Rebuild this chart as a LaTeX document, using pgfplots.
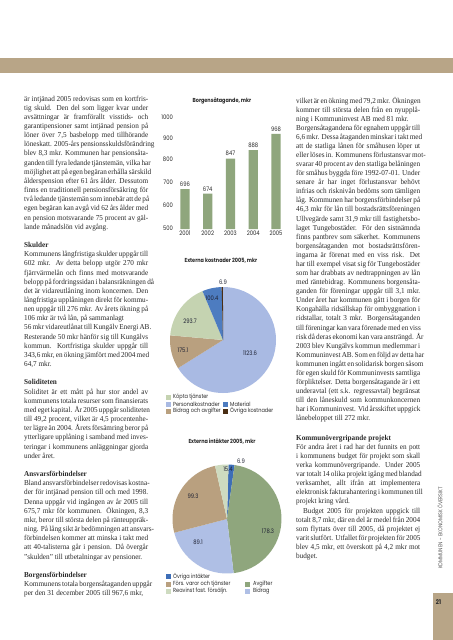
\documentclass[border=0pt]{standalone}
\usepackage{fontspec}
\setmainfont{Liberation Serif}[FakeStretch=0.95]
\newfontfamily\chartfont{Poppins}[FakeStretch=0.85]
\usepackage{pgfplots}
\pgfplotsset{compat=1.18}
\definecolor{tanc}{HTML}{B8A587}
\definecolor{barg}{HTML}{8FA67D}
\definecolor{cPers}{HTML}{A9BAE3}
\definecolor{cBid}{HTML}{B9A07F}
\definecolor{cKop}{HTML}{C5D3B1}
\definecolor{cMat}{HTML}{4D7CC0}
\definecolor{cOvr}{HTML}{4A2E14}
\definecolor{cAvg}{HTML}{8FA67D}
\definecolor{cBidB}{HTML}{AFBFE5}
\definecolor{cRea}{HTML}{CEDBC0}
\definecolor{cOvrB}{HTML}{3D6EB7}
\definecolor{txt}{HTML}{2A2A2A}
\definecolor{lab}{HTML}{1F2233}
\newlength\colw \setlength\colw{124bp}
\newcommand\J[1]{\hbox to \colw{#1}}
\newcommand\E[1]{\hbox{#1}}
\newcommand\B[1]{\hbox{\bfseries #1}}
\newcommand\pie[3]{%
  \xdef\pieT{0}%
  \foreach \v/\c in {#3} {\pgfmathsetmacro\tmp{\pieT+\v}\xdef\pieT{\tmp}}%
  \xdef\pieA{#1}%
  \foreach \v/\c in {#3} {%
    \pgfmathsetmacro\pieB{\pieA-\v/\pieT*360}%
    \fill[fill=\c] (axis cs:0,0) -- ++(\pieA:#2) arc[start angle=\pieA, end angle=\pieB, radius=#2] -- cycle;%
    \xdef\pieA{\pieB}%
  }%
}
\newcommand\cf{\chartfont\fontsize{6.2}{7}\selectfont}
\newcommand\lf{\chartfont\fontsize{5.9}{7}\selectfont}
\begin{document}
\begin{tikzpicture}
\path[fill=white] (0,0) rectangle (453bp,-640bp);
\begin{scope}[x=1bp,y=-1bp]
\fill[tanc] (0,58) rectangle (453,73);
\fill[tanc] (433,593) rectangle (453,640);
\node[font=\chartfont\bfseries\fontsize{6.5}{7}\selectfont, text=txt] at (438.5,602) {21};
\node[rotate=90, font=\chartfont\fontsize{5.6}{6.5}\selectfont, text=black!65] at (440,528) {KOMMUNEN - EKONOMISK ÖVERSIKT};
% left column
\node[anchor=base west, inner sep=0, text=txt] at (24,101) {\fontsize{7.6}{9.2}\selectfont\vtop{\baselineskip=9.16bp
\J{är intjänad 2005 redovisas som en kortfris-}
\J{tig skuld. Den del som ligger kvar under}
\J{avsättningar är framförallt visstids- och}
\J{garantipensioner samt intjänad pension på}
\J{löner över 7,5 basbelopp med tillhörande}
\J{löneskatt. 2005-års pensionsskuldsförändring}
\J{blev 8,3 mkr. Kommunen har pensionsåta-}
\J{ganden till fyra ledande tjänstemän, vilka har}
\J{möjlighet att på egen begäran erhålla särskild}
\J{ålderspension efter 61 års ålder. Dessutom}
\J{finns en traditionell pensionsförsäkring för}
\J{två ledande tjänstemän som innebär att de på}
\J{egen begäran kan avgå vid 62 års ålder med}
\J{en pension motsvarande 75 procent av gäl-}
\E{lande månadslön vid avgång.}
\vskip9.16bp
\B{Skulder}
\J{Kommunens långfristiga skulder uppgår till}
\J{602 mkr. Av detta belopp utgör 270 mkr}
\J{fjärrvärmelån och finns med motsvarande}
\J{belopp på fordringssidan i balansräkningen då}
\J{det är vidareutlåning inom koncernen. Den}
\J{långfristiga upplåningen direkt för kommu-}
\J{nen uppgår till 276 mkr. Av årets ökning på}
\E{106 mkr är två lån, på sammanlagt}
\J{56 mkr vidareutlånat till Kungälv Energi AB.}
\J{Resterande 50 mkr hänför sig till Kungälvs}
\J{kommun. Kortfristiga skulder uppgår till}
\J{343,6 mkr, en ökning jämfört med 2004 med}
\E{64,7 mkr.}
\vskip9.16bp
\B{Soliditeten}
\J{Soliditet är ett mått på hur stor andel av}
\J{kommunens totala resurser som finansierats}
\J{med eget kapital. År 2005 uppgår soliditeten}
\J{till 49,2 procent, vilket är 4,5 procentenhe-}
\J{ter lägre än 2004. Årets försämring beror på}
\J{ytterligare upplåning i samband med inves-}
\J{teringar i kommunens anläggningar gjorda}
\E{under året.}
\vskip9.16bp
\B{Ansvarsförbindelser}
\J{Bland ansvarsförbindelser redovisas kostna-}
\J{der för intjänad pension till och med 1998.}
\J{Denna uppgår vid ingången av år 2005 till}
\J{675,7 mkr för kommunen. Ökningen, 8,3}
\J{mkr, beror till största delen på ränteuppräk-}
\J{ning. På lång sikt är bedömningen att ansvars-}
\J{förbindelsen kommer att minska i takt med}
\J{att 40-talisterna går i pension. Då övergår}
\E{”skulden” till utbetalningar av pensioner.}
\vskip9.16bp
\B{Borgensförbindelser}
\J{Kommunens totala borgensåtaganden uppgår}
\E{per den 31 december 2005 till 967,6 mkr,}
}};
% right column
\node[anchor=base west, inner sep=0, text=txt] at (296,103) {\fontsize{7.6}{9.2}\selectfont\vtop{\baselineskip=9.08bp
\J{vilket är en ökning med 79,2 mkr. Ökningen}
\J{kommer till största delen från en nyupplå-}
\E{ning i Kommuninvest AB med 81 mkr.}
\J{Borgensåtagandena för egnahem uppgår till}
\J{6,6 mkr. Dessa åtaganden minskar i takt med}
\J{att de statliga lånen för småhusen löper ut}
\J{eller löses in. Kommunens förlustansvar mot-}
\J{svarar 40 procent av den statliga belåningen}
\J{för småhus byggda före 1992-07-01. Under}
\J{senare år har inget förlustansvar behövt}
\J{infrias och risknivån bedöms som tämligen}
\J{låg. Kommunen har borgensförbindelser på}
\J{46,3 mkr för lån till bostadsrättsföreningen}
\J{Ullvegärde samt 31,9 mkr till fastighetsbo-}
\J{laget Tungebostäder. För den sistnämnda}
\J{finns pantbrev som säkerhet. Kommunens}
\J{borgensåtaganden mot bostadsrättsfören-}
\J{ingarna är förenat med en viss risk. Det}
\J{har till exempel visat sig för Tungebostäder}
\J{som har drabbats av nedtrappningen av lån}
\J{med räntebidrag. Kommunens borgensåta-}
\J{ganden för föreningar uppgår till 3,1 mkr.}
\J{Under året har kommunen gått i borgen för}
\J{Kongahälla ridsällskap för ombyggnation i}
\J{ridstallar, totalt 3 mkr. Borgensåtaganden}
\J{till föreningar kan vara förenade med en viss}
\J{risk då deras ekonomi kan vara ansträngd. År}
\J{2003 blev Kungälvs kommun medlemmar i}
\J{Kommuninvest AB. Som en följd av detta har}
\J{kommunen ingått en solidarisk borgen såsom}
\J{för egen skuld för Kommuninvests samtliga}
\J{förpliktelser. Detta borgensåtagande är i ett}
\J{underavtal (ett s.k. regressavtal) begränsat}
\J{till den låneskuld som kommunkoncernen}
\J{har i Kommuninvest. Vid årsskiftet uppgick}
\E{lånebeloppet till 272 mkr.}
\vskip10.5bp
\B{Kommunövergripande projekt}
\J{För andra året i rad har det funnits en pott}
\J{i kommunens budget för projekt som skall}
\J{verka kommunövergripande. Under 2005}
\J{var totalt 14 olika projekt igång med blandad}
\J{verksamhet, allt ifrån att implementera}
\J{elektronisk fakturahantering i kommunen till}
\E{projekt kring vård.}
\J{\hskip7bp Budget 2005 för projekten uppgick till}
\J{totalt 8,7 mkr, där en del är medel från 2004}
\J{som flyttats över till 2005, då projektet ej}
\J{varit slutfört. Utfallet för projekten för 2005}
\J{blev 4,5 mkr, ett överskott på 4,2 mkr mot}
\E{budget.}
}};
% chart titles
\node[font=\chartfont\bfseries\fontsize{5.8}{7}\selectfont, text=txt] at (222,101) {Borgensåtagande, mkr};
\node[font=\chartfont\bfseries\fontsize{5.8}{7}\selectfont, text=txt] at (221,261) {Externa kostnader 2005, mkr};
\node[font=\chartfont\bfseries\fontsize{5.8}{7}\selectfont, text=txt] at (222,442) {Externa intäkter 2005, mkr};
% legends
\begin{scope}[every node/.style={font=\lf, text=txt, anchor=west, inner sep=0}]
\fill[cKop] (165.5,394.5) rectangle +(5,5); \node at (173,397) {Köpta tjänster};
\fill[cPers] (165.5,401.5) rectangle +(5,5); \node at (173,404) {Personalkostnader};
\fill[cBid] (165.5,408.5) rectangle +(5,5); \node at (173,411) {Bidrag och avgifter};
\fill[cMat] (222.5,401.5) rectangle +(5,5); \node at (230,404) {Material};
\fill[cOvr] (222.5,408.5) rectangle +(5,5); \node at (230,411) {Övriga kostnader};
\fill[cOvrB] (165.5,574) rectangle +(5,5); \node at (173,576.5) {Övriga intäkter};
\fill[cBid] (165.5,581.5) rectangle +(5,5); \node at (173,584) {Förs. varor och tjänster};
\fill[cRea] (165.5,588.5) rectangle +(5,5); \node at (173,591) {Reavinst fast. försäljn.};
\fill[cAvg] (245,581.5) rectangle +(5,5); \node at (253,584) {Avgifter};
\fill[cBidB] (245,588.5) rectangle +(5,5); \node at (253,591) {Bidrag};
\end{scope}
\end{scope}
% bar chart
\begin{axis}[at={(173.6bp,-229bp)}, anchor=south west, scale only axis,
  width=113.75bp, height=113.7bp, xmin=2000.5, xmax=2005.5, ymin=500, ymax=1060,
  axis line style={draw=none}, major tick length=0pt,
  xtick={2001,2002,2003,2004,2005},
  ytick={505,618,731,845,948,1052}, yticklabels={500,600,700,800,900,1000},
  /pgf/number format/1000 sep={}, /pgf/number format/assume math mode=true,
  tick label style={font=\cf, text=txt},
  xticklabel style={inner sep=0pt, yshift=-2bp}, yticklabel style={inner sep=0pt, xshift=-0.5bp},
  ybar, bar width=9.3bp,
  nodes near coords, every node near coord/.append style={font=\cf, text=txt, /pgf/number format/1000 sep={}, yshift=-1bp}]
\addplot[fill=barg, draw=none] coordinates {(2001,696) (2002,674) (2003,847) (2004,888) (2005,968)};
\end{axis}
% pie 1
\begin{axis}[at={(223bp,-340bp)}, anchor=center, scale only axis, hide axis,
  width=106bp, height=106bp, xmin=-1, xmax=1, ymin=-1, ymax=1, clip=false]
\addplot[draw=none] coordinates {(0,0)};
\pgfplotsextra{\pie{90}{53bp}{1123.6/cPers,175.1/cBid,293.7/cKop,100.4/cMat,6.9/cOvr}}
\end{axis}
% pie 2
\begin{axis}[at={(227bp,-519bp)}, anchor=center, scale only axis, hide axis,
  width=109bp, height=109bp, xmin=-1, xmax=1, ymin=-1, ymax=1, clip=false]
\addplot[draw=none] coordinates {(0,0)};
\pgfplotsextra{\pie{88.4}{54.5bp}{6.9/cOvrB,178.3/cAvg,89.1/cBidB,99.3/cBid,15.4/cRea}}
\end{axis}
% pie value labels
\begin{scope}[x=1bp,y=-1bp, every node/.style={font=\cf, text=lab, inner sep=0}]
\node at (223,282) {6.9};
\node at (212,298) {100.4};
\node at (190,321) {293.7};
\node at (183,350) {175.1};
\node at (250,353) {1123.6};
\node at (241,461) {6.9};
\node at (228,469) {15.4};
\node at (193,496) {99.3};
\node at (268,531) {178.3};
\node at (198,542) {89.1};
\end{scope}
\end{tikzpicture}
\end{document}
